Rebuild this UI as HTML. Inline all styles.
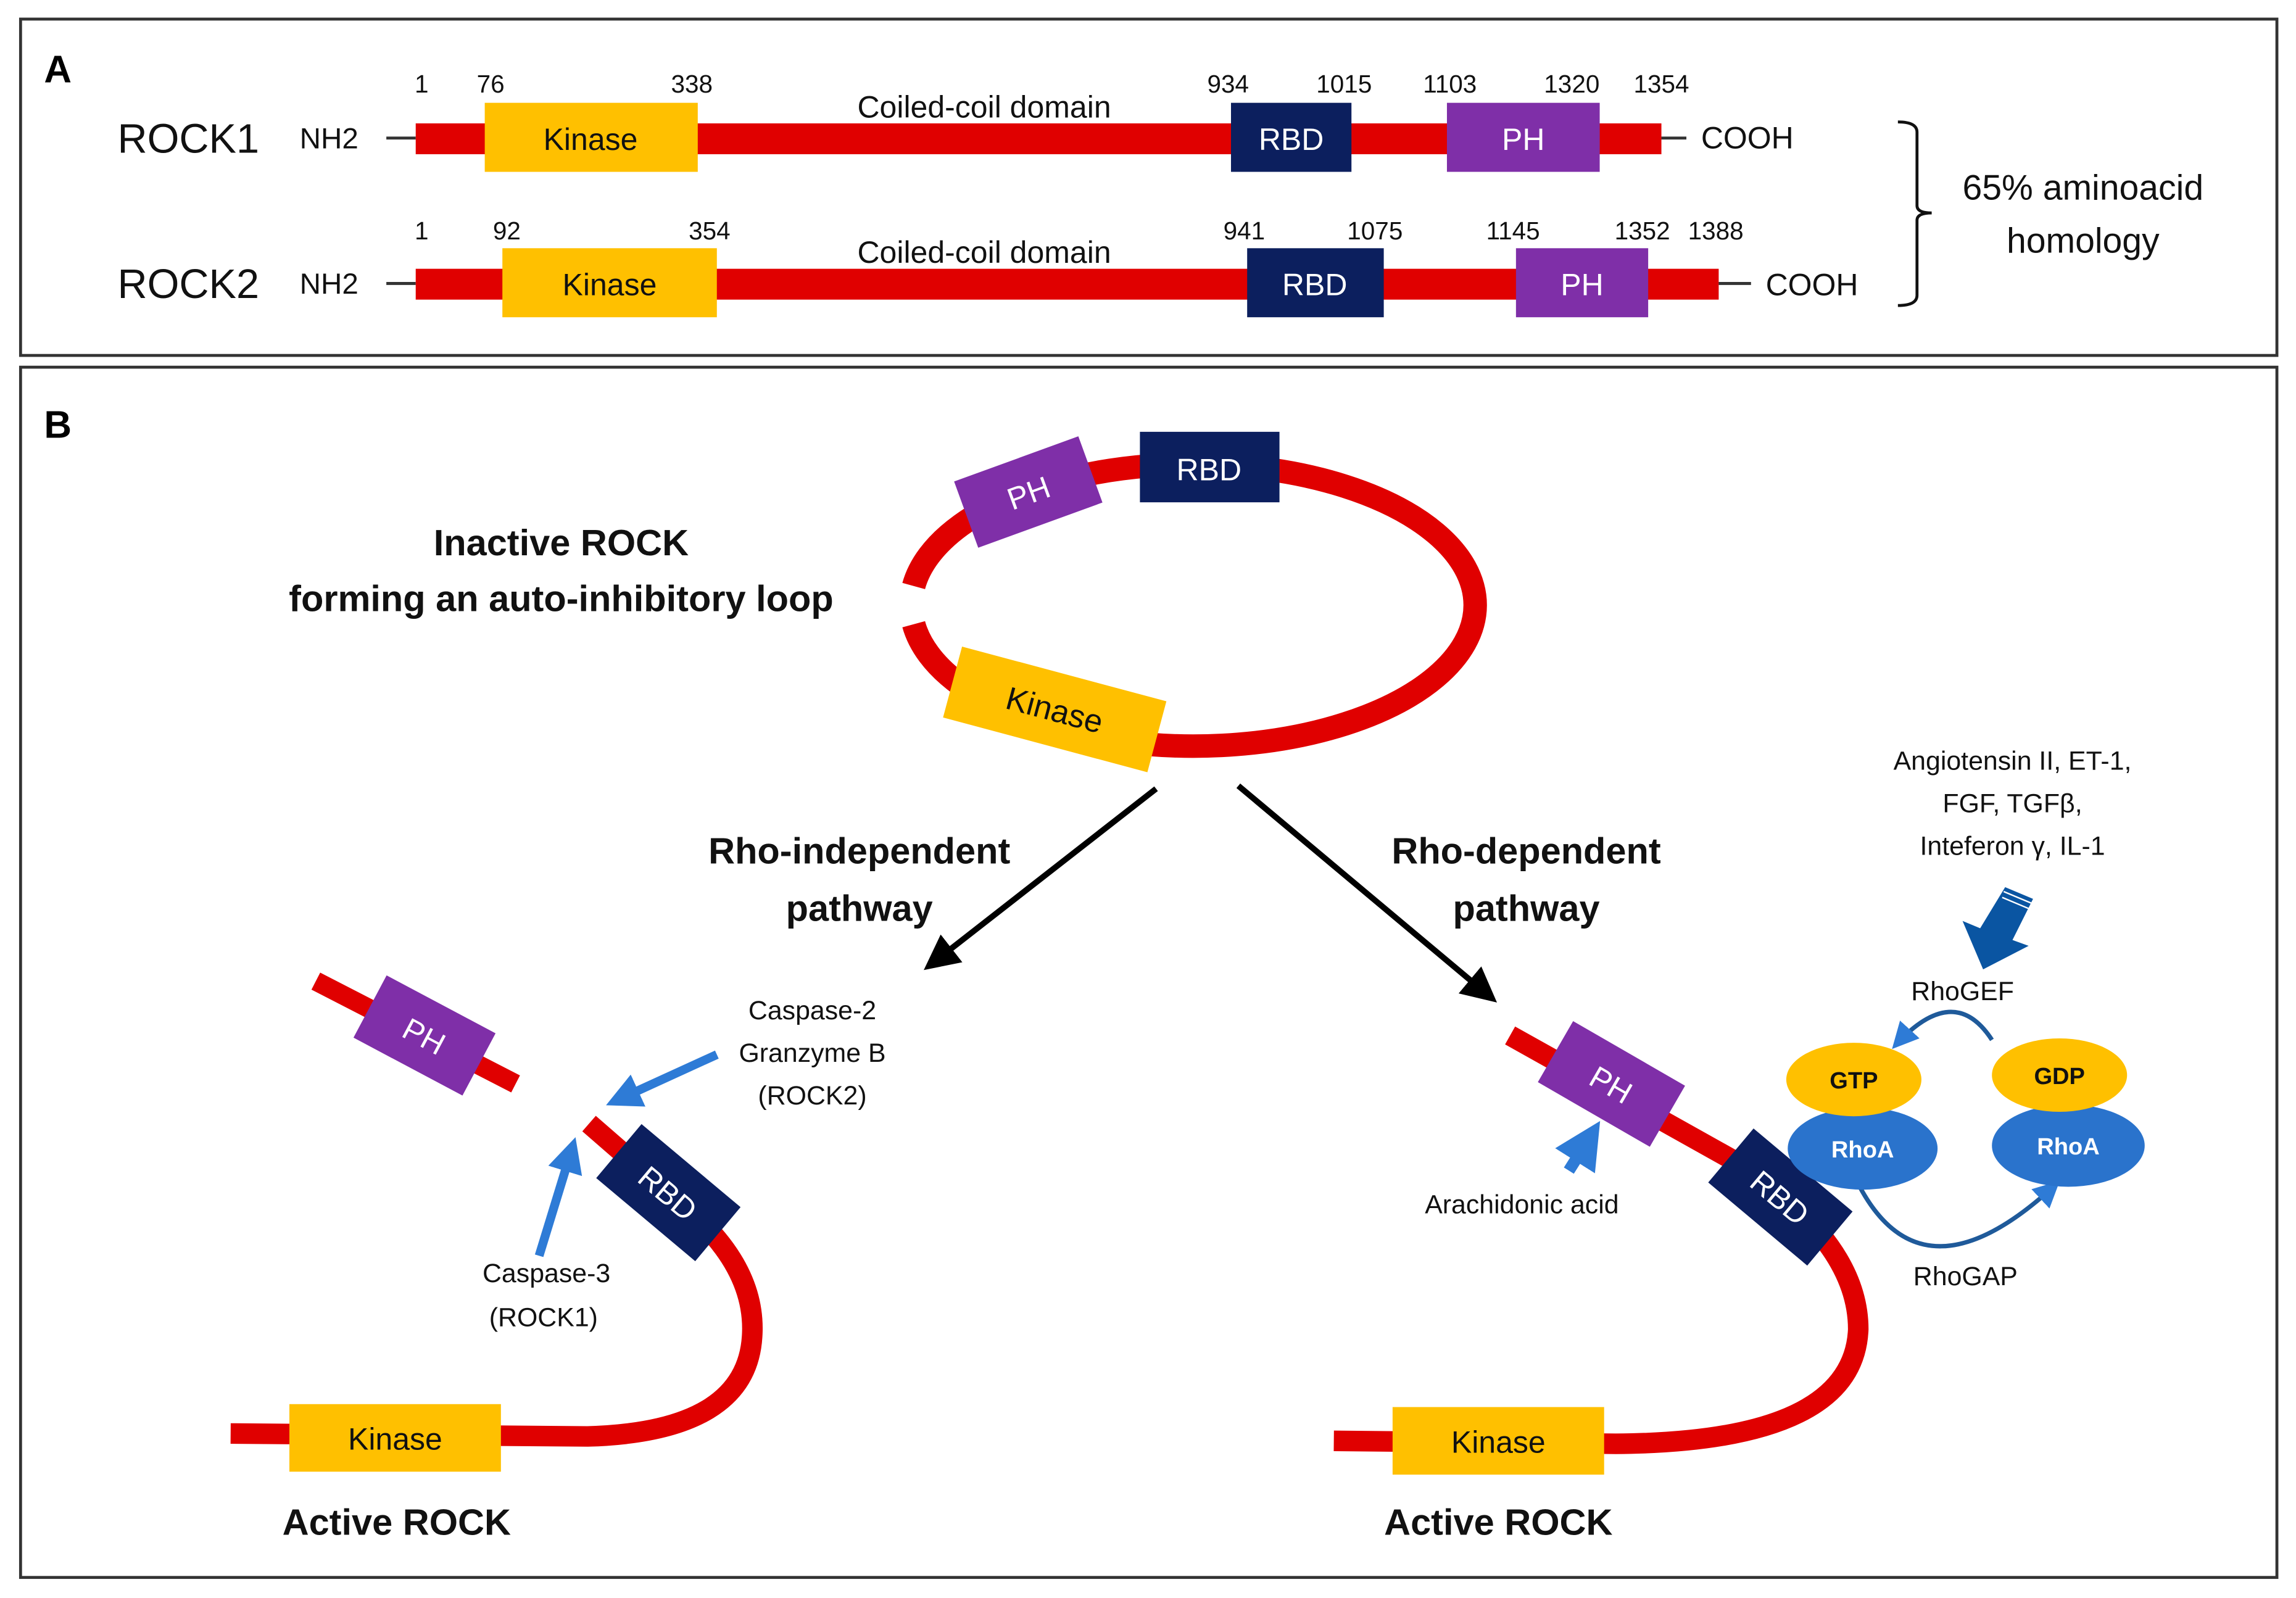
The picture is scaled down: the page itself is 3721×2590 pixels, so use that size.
<!DOCTYPE html>
<html><head><meta charset="utf-8"><style>html,body{margin:0;padding:0;background:#fff}svg{display:block}</style></head>
<body>
<svg width="3721" height="2590" viewBox="0 0 1563 1088" preserveAspectRatio="none" xmlns="http://www.w3.org/2000/svg" font-family="'Liberation Sans', 'DejaVu Sans', sans-serif">
<defs>
<marker id="ab" markerWidth="6" markerHeight="6" refX="5" refY="3" orient="auto" markerUnits="strokeWidth"><path d="M0,0 L6,3 L0,6 Z" fill="#000"/></marker>
<marker id="bb" markerWidth="4" markerHeight="4" refX="3" refY="2" orient="auto" markerUnits="strokeWidth"><path d="M0,0 L4,2 L0,4 Z" fill="#2e7bd6"/></marker>
<marker id="db" markerWidth="6" markerHeight="6" refX="5" refY="3" orient="auto" markerUnits="strokeWidth"><path d="M0,0 L6,3 L0,6 Z" fill="#2e7bd6"/></marker>
</defs>
<rect x="14" y="13" width="1536" height="229" fill="none" stroke="#333" stroke-width="2"/>
<rect x="14" y="250" width="1536" height="824" fill="none" stroke="#333" stroke-width="2"/>
<text x="30" y="56" font-size="26" font-weight="bold">A</text>
<text x="30" y="298" font-size="26" font-weight="bold">B</text>

<!-- ROCK1 -->
<text x="80" y="104" font-size="28" fill="#111">ROCK1</text>
<text x="204" y="101" font-size="20" fill="#111">NH2</text>
<line x1="263" y1="94" x2="283" y2="94" stroke="#333" stroke-width="2"/>
<rect x="283" y="84" width="848" height="21" fill="#e00000"/>
<rect x="330" y="70" width="145" height="47" fill="#ffc000"/>
<text x="402" y="102" font-size="21" text-anchor="middle" fill="#111">Kinase</text>
<rect x="838" y="70" width="82" height="47" fill="#0c1f5e"/>
<text x="879" y="102" font-size="21" text-anchor="middle" fill="#fff">RBD</text>
<rect x="985" y="70" width="104" height="47" fill="#7f2fa8"/>
<text x="1037" y="102" font-size="21" text-anchor="middle" fill="#fff">PH</text>
<line x1="1131" y1="94" x2="1148" y2="94" stroke="#333" stroke-width="2"/>
<text x="1158" y="101" font-size="21" fill="#111">COOH</text>
<g font-size="17" text-anchor="middle" fill="#111">
<text x="287" y="63">1</text><text x="334" y="63">76</text><text x="471" y="63">338</text>
<text x="836" y="63">934</text><text x="915" y="63">1015</text><text x="987" y="63">1103</text><text x="1070" y="63">1320</text><text x="1131" y="63">1354</text>
<text x="287" y="163">1</text><text x="345" y="163">92</text><text x="483" y="163">354</text>
<text x="847" y="163">941</text><text x="936" y="163">1075</text><text x="1030" y="163">1145</text><text x="1118" y="163">1352</text><text x="1168" y="163">1388</text>
</g>
<text x="670" y="80" font-size="21" text-anchor="middle" fill="#111">Coiled-coil domain</text>
<text x="670" y="179" font-size="21" text-anchor="middle" fill="#111">Coiled-coil domain</text>

<!-- ROCK2 -->
<text x="80" y="203" font-size="28" fill="#111">ROCK2</text>
<text x="204" y="200" font-size="20" fill="#111">NH2</text>
<line x1="263" y1="193" x2="283" y2="193" stroke="#333" stroke-width="2"/>
<rect x="283" y="183" width="887" height="21" fill="#e00000"/>
<rect x="342" y="169" width="146" height="47" fill="#ffc000"/>
<text x="415" y="201" font-size="21" text-anchor="middle" fill="#111">Kinase</text>
<rect x="849" y="169" width="93" height="47" fill="#0c1f5e"/>
<text x="895" y="201" font-size="21" text-anchor="middle" fill="#fff">RBD</text>
<rect x="1032" y="169" width="90" height="47" fill="#7f2fa8"/>
<text x="1077" y="201" font-size="21" text-anchor="middle" fill="#fff">PH</text>
<line x1="1170" y1="193" x2="1192" y2="193" stroke="#333" stroke-width="2"/>
<text x="1202" y="201" font-size="21" fill="#111">COOH</text>

<path d="M1292,83 Q1305,83 1305,90 L1305,140 Q1305,145 1315,145 Q1305,145 1305,150 L1305,201 Q1305,208 1292,208" fill="none" stroke="#111" stroke-width="2"/>
<text x="1418" y="136" font-size="24" text-anchor="middle" fill="#111">65% aminoacid</text>
<text x="1418" y="172" font-size="24" text-anchor="middle" fill="#111">homology</text>

<!-- Inactive loop -->
<path d="M622,399 A192,96 0 1 1 622,425" fill="none" stroke="#e00000" stroke-width="16"/>
<rect x="776" y="294" width="95" height="48" fill="#0c1f5e"/>
<text x="823" y="327" font-size="21" text-anchor="middle" fill="#fff">RBD</text>
<g transform="translate(700,335) rotate(-20)"><rect x="-45" y="-24" width="90" height="48" fill="#7f2fa8"/><text x="0" y="8" font-size="21" text-anchor="middle" fill="#fff">PH</text></g>
<g transform="translate(718,483) rotate(15)"><rect x="-72" y="-25" width="144" height="50" fill="#ffc000"/><text x="0" y="8" font-size="22" text-anchor="middle" fill="#111">Kinase</text></g>
<text x="382" y="378" font-size="25" font-weight="bold" text-anchor="middle" fill="#111">Inactive ROCK</text>
<text x="382" y="416" font-size="25" font-weight="bold" text-anchor="middle" fill="#111">forming an auto-inhibitory loop</text>

<!-- pathway arrows -->
<line x1="787" y1="537" x2="632" y2="658" stroke="#000" stroke-width="4" marker-end="url(#ab)"/>
<line x1="843" y1="535" x2="1016" y2="680" stroke="#000" stroke-width="4" marker-end="url(#ab)"/>
<text x="585" y="588" font-size="25" font-weight="bold" text-anchor="middle" fill="#111">Rho-independent</text>
<text x="585" y="627" font-size="25" font-weight="bold" text-anchor="middle" fill="#111">pathway</text>
<text x="1039" y="588" font-size="25" font-weight="bold" text-anchor="middle" fill="#111">Rho-dependent</text>
<text x="1039" y="627" font-size="25" font-weight="bold" text-anchor="middle" fill="#111">pathway</text>

<!-- left active -->
<line x1="215" y1="668" x2="351" y2="738" stroke="#e00000" stroke-width="13"/>
<g transform="translate(289,705) rotate(28)"><rect x="-42" y="-24" width="84" height="48" fill="#7f2fa8"/><text x="0" y="8" font-size="21" text-anchor="middle" fill="#fff">PH</text></g>
<path d="M401,765 L470,825 Q515,865 512,910 Q508,975 400,978 L157,976" fill="none" stroke="#e00000" stroke-width="14"/>
<g transform="translate(455,812) rotate(40)"><rect x="-44" y="-24" width="88" height="48" fill="#0c1f5e"/><text x="0" y="8" font-size="21" text-anchor="middle" fill="#fff">RBD</text></g>
<rect x="197" y="956" width="144" height="46" fill="#ffc000"/>
<text x="269" y="987" font-size="21" text-anchor="middle" fill="#111">Kinase</text>
<line x1="488" y1="718" x2="418" y2="750" stroke="#2e7bd6" stroke-width="6" marker-end="url(#bb)"/>
<line x1="367" y1="855" x2="390" y2="780" stroke="#2e7bd6" stroke-width="6" marker-end="url(#bb)"/>
<g font-size="18" text-anchor="middle" fill="#111">
<text x="553" y="694">Caspase-2</text><text x="553" y="723">Granzyme B</text><text x="553" y="752">(ROCK2)</text>
<text x="372" y="873">Caspase-3</text><text x="370" y="903">(ROCK1)</text>
<text x="1036" y="826">Arachidonic acid</text>
<text x="1370" y="524">Angiotensin II, ET-1,</text><text x="1370" y="553">FGF, TGFβ,</text><text x="1370" y="582">Inteferon γ, IL-1</text>
<text x="1336" y="681">RhoGEF</text><text x="1338" y="875">RhoGAP</text>
</g>
<text x="270" y="1045" font-size="25" font-weight="bold" text-anchor="middle" fill="#111">Active ROCK</text>

<!-- right active -->
<path d="M1028,705 L1180,790 Q1265,845 1265,905 Q1262,982 1100,983 L908,981" fill="none" stroke="#e00000" stroke-width="14"/>
<g transform="translate(1097,738) rotate(30)"><rect x="-44" y="-24" width="88" height="48" fill="#7f2fa8"/><text x="0" y="8" font-size="21" text-anchor="middle" fill="#fff">PH</text></g>
<g transform="translate(1212,815) rotate(40)"><rect x="-44" y="-24" width="88" height="48" fill="#0c1f5e"/><text x="0" y="8" font-size="21" text-anchor="middle" fill="#fff">RBD</text></g>
<rect x="948" y="958" width="144" height="46" fill="#ffc000"/>
<text x="1020" y="989" font-size="21" text-anchor="middle" fill="#111">Kinase</text>
<line x1="1068" y1="797" x2="1085" y2="770" stroke="#2e7bd6" stroke-width="8" marker-end="url(#bb)"/>
<text x="1020" y="1045" font-size="25" font-weight="bold" text-anchor="middle" fill="#111">Active ROCK</text>

<!-- big arrow -->
<path d="M1365,604 L1384,612 L1370,640 L1381,644 L1350,660 L1336,627 L1348,632 Z" fill="#0a55a2"/>
<line x1="1364" y1="607" x2="1383" y2="615" stroke="#fff" stroke-width="1"/>
<line x1="1363" y1="611" x2="1382" y2="619" stroke="#fff" stroke-width="1"/>

<!-- cycle -->
<path d="M1356,708 Q1330,668 1290,712" fill="none" stroke="#1f5a9a" stroke-width="3" marker-end="url(#db)"/>
<path d="M1266,808 Q1310,890 1400,806" fill="none" stroke="#1f5a9a" stroke-width="3" marker-end="url(#db)"/>
<ellipse cx="1268" cy="782" rx="51" ry="28" fill="#2a73cc"/>
<ellipse cx="1262" cy="735" rx="46" ry="25" fill="#ffc000"/>
<ellipse cx="1408" cy="780" rx="52" ry="28" fill="#2a73cc"/>
<ellipse cx="1402" cy="732" rx="46" ry="25" fill="#ffc000"/>
<g font-size="16" font-weight="bold" text-anchor="middle">
<text x="1262" y="741" fill="#111">GTP</text><text x="1402" y="738" fill="#111">GDP</text>
<text x="1268" y="788" fill="#fff">RhoA</text><text x="1408" y="786" fill="#fff">RhoA</text>
</g>
</svg>
</body></html>
